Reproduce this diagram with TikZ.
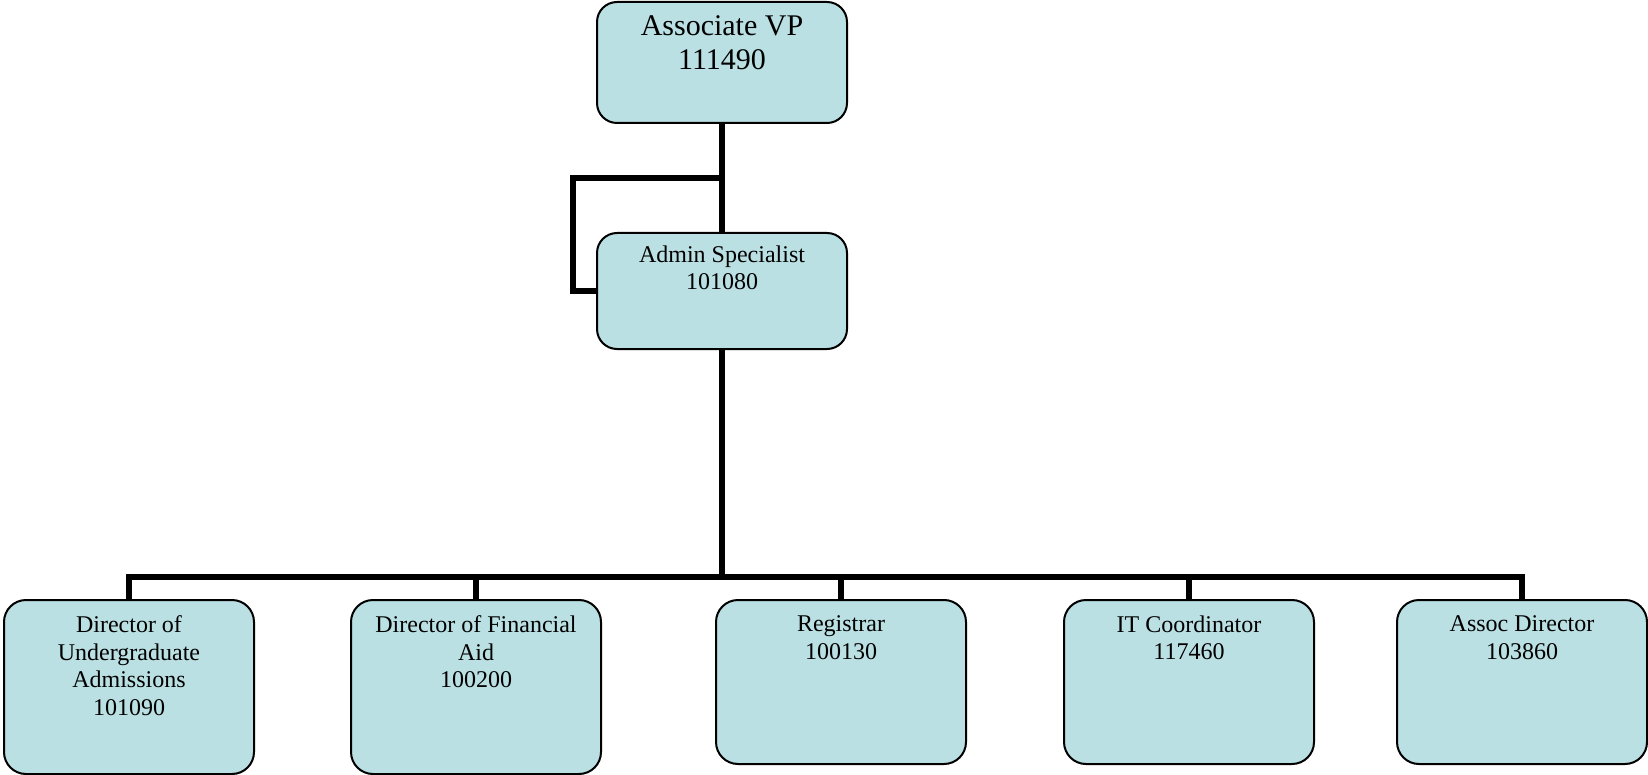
\documentclass[tikz,border=0pt]{standalone}
\usepackage{fontspec}
\setmainfont{Liberation Serif}
\definecolor{boxfill}{RGB}{186,224,227}
\tikzset{
  orgbox/.style={draw=black, line width=2pt, fill=boxfill, rounded corners=22pt, inner sep=0pt},
  orgtext/.style={anchor=north, align=center, inner sep=0pt, font=\fontsize{24}{27.6}\selectfont},
  toptext/.style={anchor=north, align=center, inner sep=0pt, font=\fontsize{30}{34}\selectfont},
  conn/.style={draw=black, line width=6.5pt, line join=miter},
  conndrop/.style={draw=black, line width=5.5pt, line join=miter},
  connthin/.style={draw=black, line width=5.5pt, line join=miter}
}
\begin{document}
\begin{tikzpicture}[x=1pt,y=-1pt]
\useasboundingbox (0,0) rectangle (1648,775);
% boxes
\node[orgbox, minimum width=250pt, minimum height=121pt, rounded corners=20pt] (top) at (722,62.5) {};
\node[orgbox, minimum width=250pt, minimum height=116pt, rounded corners=20pt] (admin) at (722,291) {};
\node[orgbox, minimum width=250pt, minimum height=174pt] (b1) at (129,687) {};
\node[orgbox, minimum width=250pt, minimum height=174pt] (b2) at (476,687) {};
\node[orgbox, minimum width=250pt, minimum height=164pt] (b3) at (841,682) {};
\node[orgbox, minimum width=250pt, minimum height=164pt] (b4) at (1189,682) {};
\node[orgbox, minimum width=250pt, minimum height=164pt] (b5) at (1522,682) {};
% texts
\node[toptext] (ttop) at (722,15) {Associate VP\\111490};
\node[orgtext] (tadmin) at (722,245.5) {Admin Specialist\\101080};
\node[orgtext] (t1) at (129,615.5) {Director of\\Undergraduate\\Admissions\\101090};
\node[orgtext] (t2) at (476,615.5) {Director of Financial\\Aid\\100200};
\node[orgtext] (t3) at (841,615.5) {Registrar\\100130};
\node[orgtext] (t4) at (1189,615.5) {IT Coordinator\\117460};
\node[orgtext] (t5) at (1522,615.5) {Assoc Director\\103860};
% connectors
\coordinate (j1) at (722,178);
\coordinate (bus) at (722,577);
\draw[connthin] (top.south) -- (admin.north);
\draw[connthin] (j1) -- ++(-149,0) |- (admin.west);
\draw[conn] (admin.south) -- (bus);
\draw[conn] (b1.north) -- (b1.north |- bus) -- (b5.north |- bus) -- (b5.north);
\draw[conndrop] (b2.north) -- (b2.north |- bus);
\draw[conndrop] (b3.north) -- (b3.north |- bus);
\draw[conndrop] (b4.north) -- (b4.north |- bus);
\end{tikzpicture}
\end{document}
